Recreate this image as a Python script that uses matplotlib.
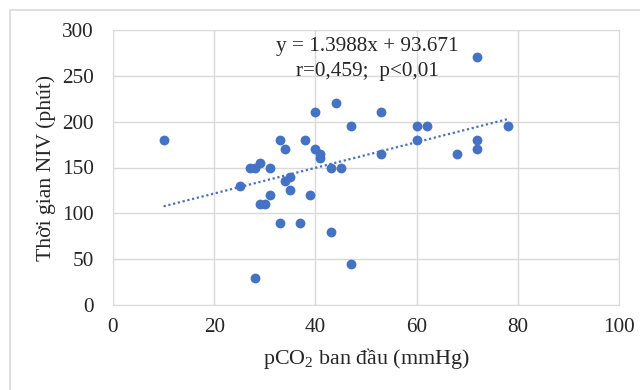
import matplotlib
matplotlib.use("Agg")
import matplotlib.pyplot as plt
from matplotlib.patches import Rectangle

plt.rcParams['font.family'] = ['Liberation Serif', 'DejaVu Serif']
plt.rcParams['mathtext.fontset'] = 'custom'
plt.rcParams['mathtext.rm'] = 'Liberation Serif'
plt.rcParams['mathtext.it'] = 'Liberation Serif:italic'

# pCO2 ban dau (mmHg) vs Thoi gian NIV (phut)
pco2 = [10, 25, 27, 28, 29, 31, 29, 30, 31, 28, 33, 34, 34, 35, 35, 33, 37, 38, 39,
        40, 40, 41, 41, 43, 45, 43, 44, 47, 47,
        72, 53, 60, 62, 60, 53, 68, 72, 72, 78]
niv = [180, 130, 150, 150, 155, 150, 110, 110, 120, 30, 180, 170, 135, 140, 125, 90, 90, 180, 120,
       210, 170, 165, 160, 150, 150, 80, 220, 195, 45,
       270, 210, 195, 195, 180, 165, 165, 180, 170, 195]

slope = 1.3988
intercept = 93.671
trend_x = [10, 78]

xticks = [0, 20, 40, 60, 80, 100]
yticks = [0, 50, 100, 150, 200, 250, 300]

blue = '#4472C4'
grid_c = '#d9d9d9'
txt_c = '#262626'

fig = plt.figure(figsize=(6.4, 3.9), dpi=100)
ax = fig.add_axes([113 / 640, 1 - 305 / 390, (619 - 113) / 640, (305 - 30) / 390])

ax.scatter(pco2, niv, s=50, color=blue, zorder=3, linewidths=0)
ax.plot(trend_x, [slope * v + intercept for v in trend_x], color=blue,
        linestyle=(0, (1, 1.2)), linewidth=1.6, zorder=2)

ax.set_xlim(0, 100)
ax.set_ylim(0, 300)
ax.set_xticks(xticks)
ax.set_yticks(yticks)
ax.grid(True, color=grid_c, linewidth=1)
ax.set_axisbelow(True)
for sp in ax.spines.values():
    sp.set_color(grid_c)
ax.tick_params(length=0, labelsize=15.3, colors=txt_c)
ax.tick_params(axis='x', pad=9)
ax.tick_params(axis='y', pad=14)

ax.set_xlabel('pCO$_2$ ban đầu (mmHg)', fontsize=15.8, color=txt_c, labelpad=7)
ax.set_ylabel('Thời gian NIV (phút)', fontsize=15.6, color=txt_c, labelpad=4)

ax.text(0.502, 0.94, 'y = 1.3988x + 93.671', transform=ax.transAxes,
        ha='center', va='center', fontsize=15.3, color=txt_c)
ax.text(0.502, 0.85, 'r=0,459;  p<0,01', transform=ax.transAxes,
        ha='center', va='center', fontsize=15.3, color=txt_c)

fig.patches.append(Rectangle((10 / 640, -0.1), 1.2, 1 - 10 / 390 + 0.1,
                             transform=fig.transFigure, fill=False,
                             edgecolor='#d9d9d9', linewidth=1.2))

fig.savefig('out.png', dpi=100)
